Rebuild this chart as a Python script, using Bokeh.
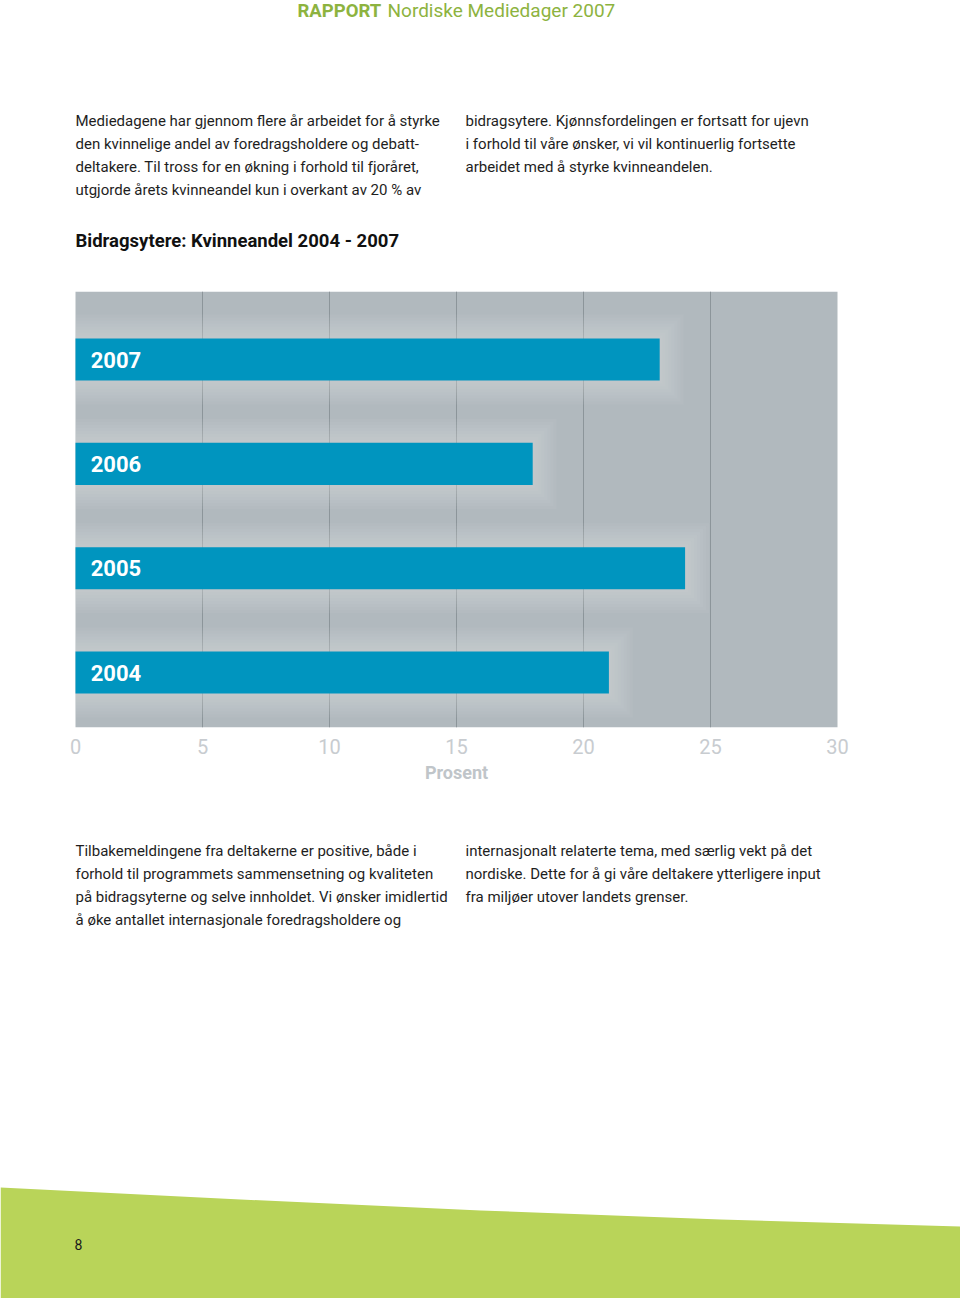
from bokeh.plotting import figure
from bokeh.models import Range1d, ColumnDataSource, FixedTicker
from bokeh.layouts import column
from bokeh.embed import file_html
from bokeh.resources import INLINE
from bokeh.core.properties import value

# ---------------- data ----------------
years = ["2007", "2006", "2005", "2004"]
shares = [23.0, 18.0, 24.0, 21.0]          # kvinneandel, prosent
ticks = [0, 5, 10, 15, 20, 25, 30]
x_label = "Prosent"
chart_title = "Bidragsytere: Kvinneandel 2004 - 2007"
header_bold = "RAPPORT"
header_regular = "Nordiske Mediedager 2007"
page_number = "8"

intro_left = [
    "Mediedagene har gjennom flere år arbeidet for å styrke",
    "den kvinnelige andel av foredragsholdere og debatt-",
    "deltakere. Til tross for en økning i forhold til fjoråret,",
    "utgjorde årets kvinneandel kun i overkant av 20 % av",
]
intro_right = [
    "bidragsytere. Kjønnsfordelingen er fortsatt for ujevn",
    "i forhold til våre ønsker, vi vil kontinuerlig fortsette",
    "arbeidet med å styrke kvinneandelen.",
]
outro_left = [
    "Tilbakemeldingene fra deltakerne er positive, både i",
    "forhold til programmets sammensetning og kvaliteten",
    "på bidragsyterne og selve innholdet. Vi ønsker imidlertid",
    "å øke antallet internasjonale foredragsholdere og",
]
outro_right = [
    "internasjonalt relaterte tema, med særlig vekt på det",
    "nordiske. Dette for å gi våre deltakere ytterligere input",
    "fra miljøer utover landets grenser.",
]

# ---------------- styles ----------------
W = 960
FONT = "Roboto"
GREEN = "#8db33f"
BAR = "#0095bf"
BODY_SIZE = "15px"
LINE_H = 23
PX_PER_UNIT = 25.4        # horizontal pixels per percent
ORIGIN_X = 75             # page x of 0 %


def page_fig(height, y_top, y_bottom):
    f = figure(width=W, height=height, x_range=Range1d(0, W),
               y_range=Range1d(y_bottom, y_top), output_backend="svg",
               toolbar_location=None, min_border=0, title=None,
               x_axis_location=None, y_axis_location=None)
    f.grid.visible = False
    f.outline_line_color = None
    f.background_fill_color = "white"
    f.border_fill_color = "white"
    return f


def paragraph(f, lines, x0, y0):
    src = ColumnDataSource(dict(x=[x0] * len(lines),
                                y=[y0 + i * LINE_H for i in range(len(lines))],
                                t=lines))
    f.text(x="x", y="y", text="t", source=src, text_font=value(FONT),
           text_font_size=BODY_SIZE, text_color="#1e1e1e",
           text_baseline="middle", text_align="left")


# ---------------- top part ----------------
top = page_fig(291, 0, 291)
top.text(x=[297], y=[10], text=[header_bold], text_font=value(FONT),
         text_font_size="18.5px", text_font_style="bold", text_color=GREEN,
         text_baseline="middle")
top.text(x=[387], y=[10], text=[header_regular], text_font=value(FONT),
         text_font_size="19px", text_color=GREEN, text_baseline="middle")
paragraph(top, intro_left, 75, 120)
paragraph(top, intro_right, 465, 120)
top.text(x=[75], y=[240], text=[chart_title], text_font=value(FONT),
         text_font_size="18.5px", text_font_style="bold", text_color="#111111",
         text_baseline="middle")

# ---------------- chart ----------------
pos = [len(years) - 1 - i for i in range(len(years))]
bar_h = 0.403
y0, y1 = -0.527, 3.652
x0 = -ORIGIN_X / PX_PER_UNIT
x1 = (W - ORIGIN_X) / PX_PER_UNIT
chart = figure(width=W, height=467, x_range=Range1d(x0, x1),
               y_range=Range1d(y0, y1), output_backend="svg",
               toolbar_location=None, title=None, y_axis_location=None,
               x_axis_location="below",
               min_border_left=0, min_border_right=0,
               min_border_top=0, min_border_bottom=31)
chart.outline_line_color = None
chart.background_fill_color = "white"
chart.border_fill_color = "white"
chart.ygrid.visible = False

# plot area background
chart.quad(left=[ticks[0]], right=[ticks[-1]], bottom=[y0], top=[y1],
           fill_color="#b1b9be", line_color=None, level="underlay")
chart.xgrid.ticker = FixedTicker(ticks=ticks[1:-1])
chart.xgrid.grid_line_color = "#8c959a"
chart.xgrid.grid_line_width = 1

# soft glow around the bars
for k in range(1, 9):
    px = 3 * k
    chart.quad(left=[0] * len(shares),
               right=[s + px / PX_PER_UNIT for s in shares],
               bottom=[p - bar_h / 2 - px / 104.3 for p in pos],
               top=[p + bar_h / 2 + px / 104.3 for p in pos],
               fill_color="#e8eef2", fill_alpha=0.05, line_color=None)

src = ColumnDataSource(dict(y=pos, right=shares, year=years,
                            lx=[0.6] * len(years)))
chart.hbar(y="y", left=0, right="right", height=bar_h, source=src,
           fill_color=BAR, line_color=None)
chart.text(x="lx", y="y", text="year", source=src, text_font=value(FONT),
           text_font_size="22px", text_font_style="bold", text_color="white",
           text_baseline="middle")

ax = chart.xaxis[0]
ax.ticker = FixedTicker(ticks=ticks)
ax.axis_line_color = None
ax.major_tick_line_color = None
ax.minor_tick_line_color = None
ax.major_label_text_font = FONT
ax.major_label_text_font_size = "20px"
ax.major_label_text_color = "#c8ccd0"
ax.major_label_standoff = 5

# ---------------- bottom part ----------------
bottom = page_fig(540, 758, 1298)
bottom.text(x=[ORIGIN_X + 15 * PX_PER_UNIT], y=[772], text=[x_label],
            text_font=value(FONT), text_font_size="18px",
            text_font_style="bold", text_color="#c0c5c9",
            text_baseline="middle", text_align="center")
paragraph(bottom, outro_left, 75, 850)
paragraph(bottom, outro_right, 465, 850)
bottom.patch(x=[0, 240, 480, 720, 960, 960, 0],
             y=[1187, 1199, 1210, 1219, 1226, 1300, 1300],
             fill_color="#b9d459", line_color=None)
bottom.text(x=[78], y=[1244], text=[page_number], text_font=value(FONT),
            text_font_size="14px", text_color="#1a1a1a",
            text_baseline="middle", text_align="center")

page = column(top, chart, bottom, spacing=0)
open("out.html", "w").write(file_html(page, INLINE))
